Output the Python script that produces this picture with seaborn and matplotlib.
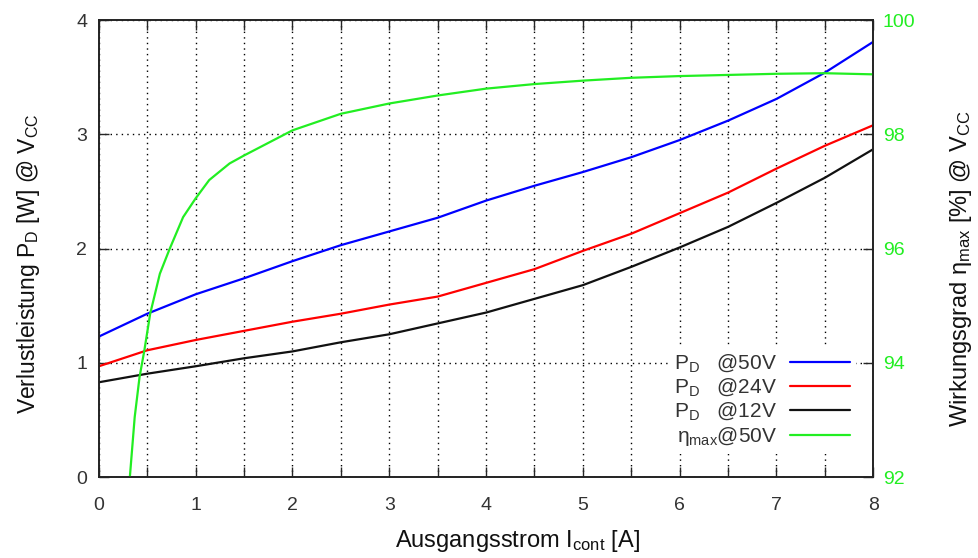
import matplotlib
matplotlib.use('Agg')
import pandas as pd
from matplotlib import pyplot as plt
from matplotlib.ticker import MultipleLocator
import seaborn as sns

#======== values ========#
current = [0, 0.5, 1, 1.5, 2, 2.5, 3, 3.5, 4, 4.5, 5, 5.5, 6, 6.5, 7, 7.5, 8]
pd_50v = [1.23, 1.43, 1.60, 1.74, 1.89, 2.03, 2.15, 2.27, 2.42, 2.55, 2.67, 2.80, 2.95, 3.12, 3.31, 3.54, 3.81]
pd_24v = [0.97, 1.11, 1.20, 1.28, 1.36, 1.43, 1.51, 1.58, 1.70, 1.82, 1.98, 2.13, 2.31, 2.49, 2.70, 2.90, 3.08]
pd_12v = [0.83, 0.905, 0.97, 1.04, 1.10, 1.18, 1.25, 1.345, 1.44, 1.56, 1.68, 1.84, 2.01, 2.19, 2.40, 2.62, 2.87]

eta_current = [0.32, 0.37, 0.42, 0.47, 0.53, 0.63, 0.73, 0.87, 1.0, 1.14, 1.35, 1.5, 2.0, 2.5, 3.0,
               3.5, 4.0, 4.5, 5.0, 5.5, 6.0, 6.5, 7.0, 7.5, 8.0]
eta_50v = [92.0, 93.05, 93.75, 94.22, 94.86, 95.56, 95.99, 96.55, 96.88, 97.2, 97.49, 97.63, 98.07, 98.36, 98.54,
           98.68, 98.80, 98.88, 98.94, 98.99, 99.02, 99.04, 99.06, 99.07, 99.05]

df = pd.DataFrame({'I': current, 'P50': pd_50v, 'P24': pd_24v, 'P12': pd_12v})
df_eta = pd.DataFrame({'I': eta_current, 'eta': eta_50v})

sns.set_style('ticks')
plt.rcParams['font.family'] = ['Liberation Sans', 'DejaVu Sans']
plt.rcParams['mathtext.fontset'] = 'custom'
plt.rcParams['mathtext.rm'] = 'Liberation Sans'
plt.rcParams['mathtext.it'] = 'Liberation Sans:italic'

fig, ax = plt.subplots(figsize=(9.79, 5.58), dpi=100)
fig.subplots_adjust(left=0.101, right=0.892, top=0.964, bottom=0.145)
ax2 = ax.twinx()

lw = 1.6
green = '#22ee22'
sns.lineplot(x='I', y='P50', data=df, ax=ax, color='#0000ff', lw=lw, label=r'P$_\mathregular{D}$   @50V')
sns.lineplot(x='I', y='P24', data=df, ax=ax, color='#ff0000', lw=lw, label=r'P$_\mathregular{D}$   @24V')
sns.lineplot(x='I', y='P12', data=df, ax=ax, color='#111111', lw=lw, label=r'P$_\mathregular{D}$   @12V')
sns.lineplot(x='I', y='eta', data=df_eta, ax=ax2, color=green, lw=lw, label=r'η$_\mathregular{max}$@50V')

ax.set_xlim(0, 8)
ax.set_ylim(0, 4)
ax2.set_ylim(92, 100)
ax.xaxis.set_major_locator(MultipleLocator(1))
ax.xaxis.set_minor_locator(MultipleLocator(0.5))
ax.yaxis.set_major_locator(MultipleLocator(1))
ax2.yaxis.set_major_locator(MultipleLocator(2))

# dotted grid: every 0.5 A vertically, every 1 W horizontally
ax.grid(which='both', axis='x', color='black', linestyle=(0, (1, 3)), linewidth=1.0)
ax.grid(which='major', axis='y', color='black', linestyle=(0, (1, 3)), linewidth=1.0)
ax.set_axisbelow(True)

tick_col = '#333333'
ax.tick_params(which='both', direction='in', length=7, width=1.0, top=True, right=False,
               labelsize=14, labelcolor=tick_col)
ax.tick_params(axis='y', pad=8.5)
ax.tick_params(axis='x', which='both', pad=14)
ax2.tick_params(direction='in', length=7, width=1.0, labelsize=14, labelcolor=green, pad=7)
for a in (ax, ax2):
    for s in a.spines.values():
        s.set_color('#222222')
        s.set_linewidth(1.2)

ax.set_xlabel(r'Ausgangsstrom I$_\mathregular{cont}$ [A]', fontsize=17, color='#111111')
ax.set_ylabel(r'Verlustleistung P$_\mathregular{D}$ [W] @ V$_\mathregular{CC}$', fontsize=16.5, color='#111111')
ax2.set_ylabel(r'Wirkungsgrad η$_\mathregular{max}$ [%] @ V$_\mathregular{CC}$', fontsize=17, color='#111111')
ax.xaxis.set_label_coords(0.541, -0.112)
ax.yaxis.set_label_coords(-0.073, 0.466)
ax2.yaxis.set_label_coords(1.097, 0.455)

h1, l1 = ax.get_legend_handles_labels()
h2, l2 = ax2.get_legend_handles_labels()
ax2.get_legend().remove()
ax.get_legend().remove()
leg = ax2.legend(h1 + h2, l1 + l2, loc='lower right', bbox_to_anchor=(0.978, 0.05), borderaxespad=0,
                 frameon=True, facecolor='white', edgecolor='none', framealpha=1, fancybox=False,
                 borderpad=0.3, markerfirst=False, fontsize=15, handlelength=2.9, handletextpad=0.6,
                 labelspacing=0.12)
for t in leg.get_texts():
    t.set_color(tick_col)

plt.savefig('out.png', dpi=100)
